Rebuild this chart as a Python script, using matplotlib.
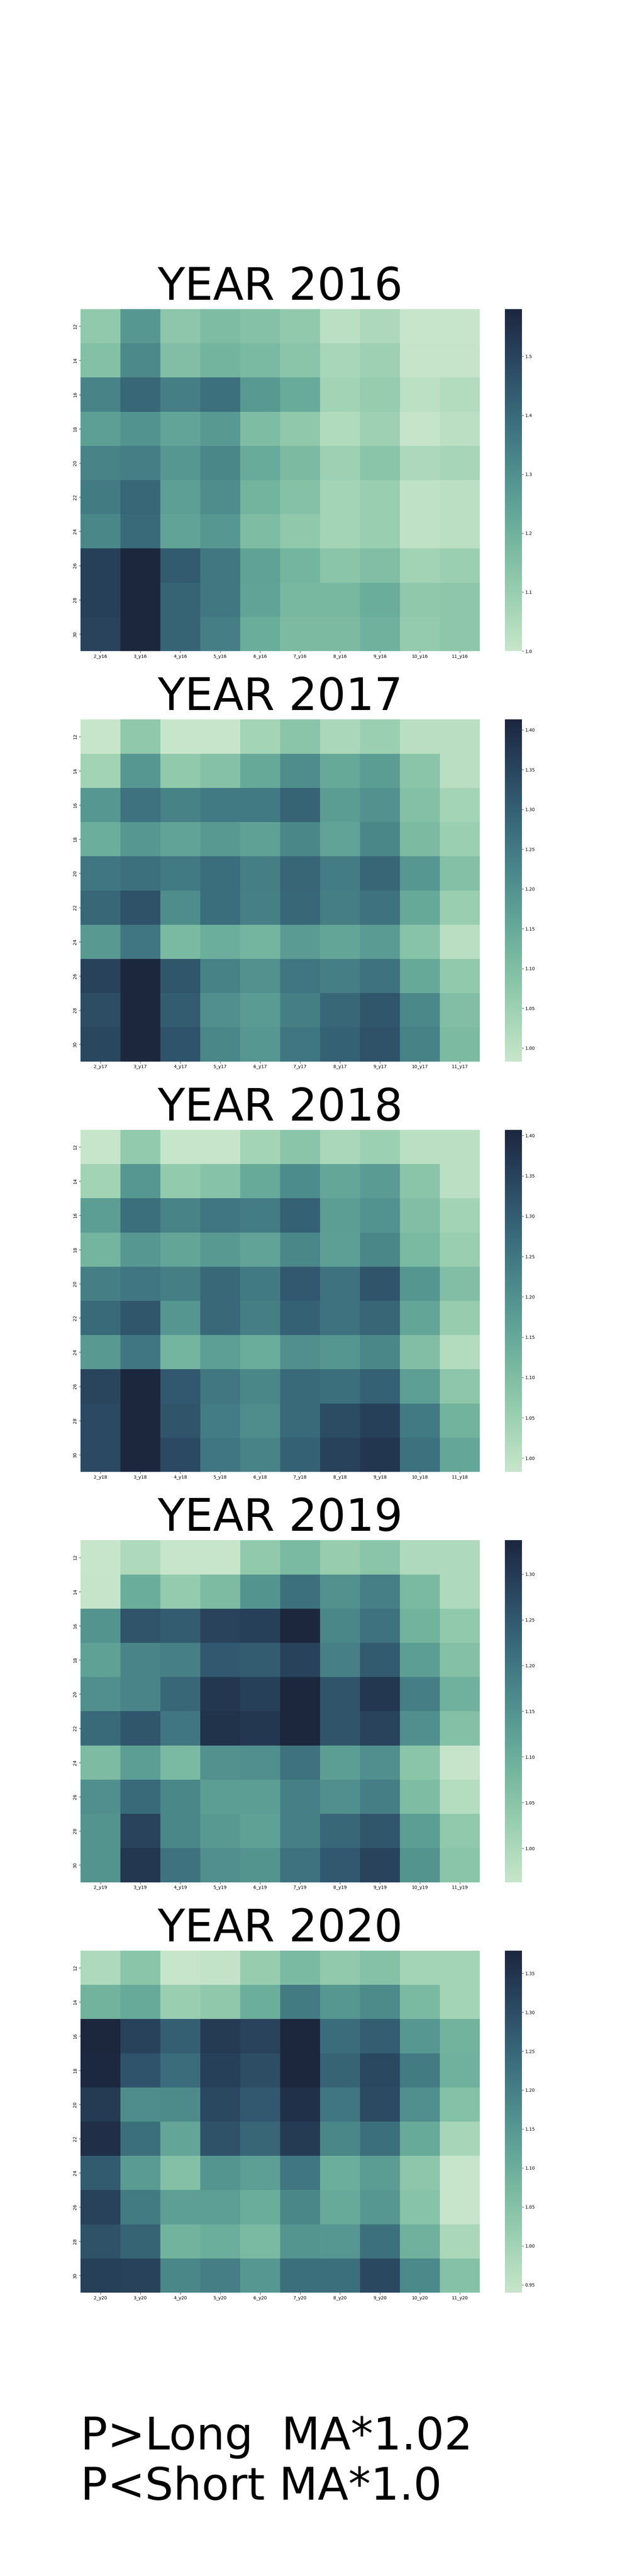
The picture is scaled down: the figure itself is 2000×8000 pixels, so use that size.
import matplotlib
matplotlib.use('Agg')
import matplotlib.pyplot as plt
import numpy as np
import pandas as pd
import seaborn as sns

# row index = long MA length, columns = short MA length for each year
ma_rows = [12, 14, 16, 18, 20, 22, 24, 26, 28, 30]
ma_cols = [2, 3, 4, 5, 6, 7, 8, 9, 10, 11]
years = [2016, 2017, 2018, 2019, 2020]

ret_2016 = [
    [1.116, 1.278, 1.128, 1.162, 1.145, 1.116, 1.029, 1.058, 1.000, 1.000],
    [1.151, 1.319, 1.157, 1.191, 1.174, 1.133, 1.064, 1.087, 1.006, 1.006],
    [1.331, 1.406, 1.348, 1.383, 1.273, 1.220, 1.081, 1.104, 1.023, 1.041],
    [1.255, 1.290, 1.238, 1.273, 1.162, 1.122, 1.046, 1.087, 1.006, 1.029],
    [1.331, 1.348, 1.278, 1.325, 1.220, 1.168, 1.087, 1.133, 1.058, 1.070],
    [1.354, 1.406, 1.255, 1.307, 1.191, 1.145, 1.075, 1.099, 1.017, 1.029],
    [1.325, 1.400, 1.244, 1.278, 1.162, 1.122, 1.075, 1.099, 1.017, 1.029],
    [1.510, 1.580, 1.441, 1.365, 1.249, 1.186, 1.133, 1.157, 1.081, 1.093],
    [1.510, 1.580, 1.418, 1.365, 1.244, 1.180, 1.180, 1.215, 1.122, 1.128],
    [1.499, 1.580, 1.418, 1.348, 1.215, 1.168, 1.168, 1.203, 1.110, 1.128],
]

ret_2017 = [
    [0.983, 1.073, 0.983, 0.983, 1.039, 1.082, 1.030, 1.052, 1.005, 1.005],
    [1.043, 1.189, 1.069, 1.091, 1.151, 1.211, 1.151, 1.177, 1.082, 1.005],
    [1.189, 1.263, 1.232, 1.250, 1.250, 1.293, 1.177, 1.202, 1.095, 1.039],
    [1.138, 1.189, 1.164, 1.185, 1.168, 1.224, 1.164, 1.224, 1.108, 1.052],
    [1.258, 1.267, 1.250, 1.275, 1.241, 1.288, 1.245, 1.288, 1.189, 1.095],
    [1.284, 1.327, 1.211, 1.275, 1.237, 1.284, 1.241, 1.263, 1.151, 1.056],
    [1.185, 1.258, 1.112, 1.138, 1.121, 1.181, 1.159, 1.181, 1.086, 1.005],
    [1.357, 1.413, 1.318, 1.232, 1.202, 1.258, 1.241, 1.263, 1.151, 1.069],
    [1.336, 1.413, 1.306, 1.207, 1.181, 1.241, 1.284, 1.318, 1.220, 1.099],
    [1.349, 1.413, 1.323, 1.224, 1.189, 1.258, 1.297, 1.327, 1.232, 1.108],
]

ret_2018 = [
    [0.983, 1.067, 0.983, 0.983, 1.038, 1.080, 1.029, 1.050, 1.004, 1.004],
    [1.042, 1.186, 1.067, 1.089, 1.148, 1.211, 1.152, 1.178, 1.080, 1.004],
    [1.173, 1.267, 1.228, 1.254, 1.241, 1.292, 1.173, 1.195, 1.097, 1.042],
    [1.122, 1.186, 1.156, 1.182, 1.161, 1.220, 1.169, 1.220, 1.110, 1.055],
    [1.237, 1.254, 1.237, 1.279, 1.245, 1.309, 1.258, 1.317, 1.190, 1.097],
    [1.275, 1.313, 1.190, 1.279, 1.237, 1.292, 1.258, 1.284, 1.156, 1.059],
    [1.182, 1.254, 1.122, 1.169, 1.139, 1.203, 1.190, 1.220, 1.097, 1.016],
    [1.347, 1.407, 1.309, 1.250, 1.220, 1.275, 1.267, 1.292, 1.169, 1.076],
    [1.339, 1.407, 1.317, 1.241, 1.207, 1.275, 1.334, 1.356, 1.245, 1.127],
    [1.339, 1.407, 1.339, 1.254, 1.228, 1.292, 1.351, 1.377, 1.262, 1.152],
]

ret_2019 = [
    [0.963, 0.997, 0.963, 0.963, 1.038, 1.075, 1.030, 1.049, 0.997, 0.997],
    [0.967, 1.101, 1.034, 1.071, 1.150, 1.210, 1.154, 1.184, 1.075, 0.997],
    [1.150, 1.258, 1.244, 1.285, 1.292, 1.337, 1.172, 1.206, 1.090, 1.038],
    [1.124, 1.176, 1.184, 1.251, 1.244, 1.288, 1.184, 1.247, 1.131, 1.060],
    [1.157, 1.176, 1.225, 1.307, 1.292, 1.337, 1.258, 1.307, 1.187, 1.094],
    [1.221, 1.255, 1.202, 1.315, 1.307, 1.337, 1.258, 1.285, 1.157, 1.060],
    [1.071, 1.131, 1.075, 1.154, 1.157, 1.206, 1.131, 1.157, 1.049, 0.967],
    [1.157, 1.221, 1.172, 1.131, 1.131, 1.184, 1.157, 1.187, 1.068, 0.989],
    [1.150, 1.285, 1.172, 1.139, 1.124, 1.184, 1.225, 1.255, 1.131, 1.038],
    [1.150, 1.307, 1.206, 1.157, 1.150, 1.206, 1.251, 1.285, 1.150, 1.049],
]

ret_2020 = [
    [0.980, 1.041, 0.940, 0.949, 1.019, 1.072, 1.028, 1.050, 0.997, 0.997],
    [1.089, 1.111, 1.015, 1.032, 1.098, 1.208, 1.151, 1.177, 1.072, 0.997],
    [1.379, 1.322, 1.265, 1.335, 1.318, 1.379, 1.239, 1.269, 1.151, 1.089],
    [1.375, 1.287, 1.239, 1.326, 1.300, 1.379, 1.256, 1.309, 1.208, 1.094],
    [1.335, 1.173, 1.177, 1.309, 1.278, 1.357, 1.221, 1.304, 1.168, 1.050],
    [1.361, 1.234, 1.120, 1.291, 1.252, 1.335, 1.186, 1.234, 1.111, 0.993],
    [1.274, 1.142, 1.054, 1.155, 1.133, 1.221, 1.098, 1.138, 1.037, 0.940],
    [1.322, 1.208, 1.133, 1.133, 1.102, 1.186, 1.111, 1.151, 1.045, 0.940],
    [1.291, 1.256, 1.089, 1.098, 1.072, 1.155, 1.151, 1.230, 1.094, 0.988],
    [1.326, 1.322, 1.186, 1.203, 1.151, 1.234, 1.234, 1.309, 1.181, 1.050],
]

results = [ret_2016, ret_2017, ret_2018, ret_2019, ret_2020]

long_mult = 1.02
short_mult = 1.0

# light mint -> dark navy
cmap = sns.cubehelix_palette(rot=-.4, as_cmap=True)

fig, axes = plt.subplots(5, 1, figsize=(20, 80))

for ax, year, vals in zip(axes, years, results):
    yy = str(year)[2:]
    df = pd.DataFrame(vals, index=ma_rows,
                      columns=[f'{c}_y{yy}' for c in ma_cols])
    sns.heatmap(df, ax=ax, cmap=cmap)
    ax.set_title(f'YEAR {year}', fontsize=100)

fig.text(0.125, 0.026, f'P>Long  MA*{long_mult}\nP<Short MA*{short_mult}',
         fontsize=100, ha='left', va='bottom')

plt.savefig('out.png', dpi=100)
